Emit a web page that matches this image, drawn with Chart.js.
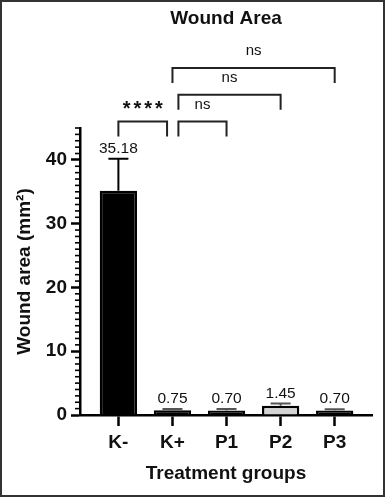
<!DOCTYPE html>
<html>
<head>
<meta charset="utf-8">
<script src="https://cdn.jsdelivr.net/npm/chart.js@4.4.1/dist/chart.umd.min.js"></script>
<style>
  html, body { margin: 0; padding: 0; background: #fff; }
  #frame { width: 385px; height: 497px; box-sizing: border-box; border: 2px solid #333; background: #fff; }
  #frame canvas { display: block; }
</style>
</head>
<body>
<div id="frame"><canvas id="wound-chart" width="381" height="493"></canvas></div>
<script>
// ====== Data ======
const groups = ['K-', 'K+', 'P1', 'P2', 'P3'];
const meanArea = [35.18, 0.75, 0.70, 1.45, 0.70];
const sdArea = [5.0, 0.2, 0.25, 0.35, 0.2];
const yTickValues = [0, 10, 20, 30, 40];

// significance brackets (positions on the group axis, bracket height in mm2, label)
const sigFrom = [0, 1.11, 1.11, 1.0];
const sigTo = [0.9, 2.0, 3.0, 4.0];
const sigLevel = [46.0, 46.0, 50.2, 54.4];
const sigText = ['****', 'ns', 'ns', 'ns'];

// bar fills (P2 is drawn light grey)
const barFill = ['#000', '#000', '#000', '#d4d4d4', '#000'];

const FONT = '"Liberation Sans", Arial, sans-serif';
const boldFont = { family: FONT, size: 19, weight: 'bold' };

// ====== Extra drawing: minor ticks, error bars, value labels, brackets ======
const extrasPlugin = {
  id: 'woundExtras',
  afterDatasetsDraw(chart) {
    const { ctx, scales: { x, y } } = chart;
    ctx.save();

    // minor ticks on the y axis (every 1 mm2)
    ctx.strokeStyle = '#000';
    ctx.lineWidth = 1.6;
    for (let v = 1; v <= y.max; v++) {
      if (v % 10 === 0) continue;
      const py = y.getPixelForValue(v);
      ctx.beginPath();
      ctx.moveTo(chart.chartArea.left - 5, py);
      ctx.lineTo(chart.chartArea.left, py);
      ctx.stroke();
    }

    // error bars + value labels
    meanArea.forEach((m, i) => {
      const px = x.getPixelForValue(i);
      const base = y.getPixelForValue(m);
      const top = y.getPixelForValue(m + sdArea[i]);
      ctx.strokeStyle = m > 5 ? '#000' : '#555';
      ctx.lineWidth = 2;
      ctx.beginPath();
      ctx.moveTo(px, base);
      ctx.lineTo(px, top);
      ctx.moveTo(px - 10, top);
      ctx.lineTo(px + 10, top);
      ctx.stroke();

      ctx.fillStyle = '#111';
      ctx.font = '15.5px ' + FONT;
      ctx.textAlign = 'center';
      ctx.textBaseline = 'alphabetic';
      ctx.fillText(m.toFixed(2), px, top - 6);
    });

    // significance brackets
    sigFrom.forEach((f, i) => {
      const x1 = x.getPixelForValue(f);
      const x2 = x.getPixelForValue(sigTo[i]);
      const yt = y.getPixelForValue(sigLevel[i]);
      const yb = y.getPixelForValue(sigLevel[i] - 2.35);
      ctx.strokeStyle = '#222';
      ctx.lineWidth = 2;
      ctx.beginPath();
      ctx.moveTo(x1, yb);
      ctx.lineTo(x1, yt);
      ctx.lineTo(x2, yt);
      ctx.lineTo(x2, yb);
      ctx.stroke();

      const cx = (x1 + x2) / 2;
      const cy = yt - 17;
      ctx.fillStyle = '#111';
      ctx.textAlign = 'center';
      ctx.textBaseline = 'alphabetic';
      if (sigText[i] === 'ns') {
        ctx.font = '15px ' + FONT;
        ctx.fillText(sigText[i], cx, cy + 4);
      } else {
        ctx.font = 'bold 20px ' + FONT;
        ctx.letterSpacing = '3px';
        ctx.fillText(sigText[i], cx + 1.5, cy + 10);
        ctx.letterSpacing = '0px';
      }
    });

    ctx.restore();
  }
};

const woundChart = new Chart(document.getElementById('wound-chart'), {
  type: 'bar',
  data: {
    datasets: [{
      data: meanArea.map((v, i) => ({ x: i, y: v })),
      backgroundColor: barFill,
      borderColor: '#000',
      borderWidth: 2.5,
      barPercentage: 0.69,
      categoryPercentage: 1
    }]
  },
  options: {
    responsive: false,
    animation: false,
    devicePixelRatio: 1,
    layout: { padding: { left: 0, right: 11, top: 0, bottom: 0 } },
    scales: {
      x: {
        type: 'linear',
        min: -0.71,
        max: 4.69,
        offset: false,
        afterBuildTicks: s => { s.ticks = groups.map((g, i) => ({ value: i })); },
        afterFit: s => { s.height = 80; },
        ticks: {
          callback: v => groups[v],
          font: boldFont,
          color: '#111',
          padding: 5,
          autoSkip: false,
          maxRotation: 0
        },
        grid: {
          offset: false,
          drawOnChartArea: false,
          tickLength: 11,
          tickWidth: 2.5,
          tickColor: '#000'
        },
        border: { display: true, color: '#000', width: 2.5 },
        title: {
          display: true,
          text: 'Treatment groups',
          font: boldFont,
          color: '#111',
          padding: { top: 0, bottom: 10 }
        }
      },
      y: {
        min: 0,
        max: 45,
        afterBuildTicks: s => { s.ticks = yTickValues.map(v => ({ value: v })); },
        afterFit: s => { s.width = 78; },
        ticks: { font: boldFont, color: '#111', padding: 4 },
        grid: {
          drawOnChartArea: false,
          tickLength: 9,
          tickWidth: 2.5,
          tickColor: '#000'
        },
        border: { display: true, color: '#000', width: 2.5 },
        title: {
          display: true,
          text: 'Wound area (mm²)',
          font: boldFont,
          color: '#111',
          padding: { top: 11.6, bottom: 0 }
        }
      }
    },
    plugins: {
      legend: { display: false },
      tooltip: { enabled: false },
      title: {
        display: true,
        text: 'Wound Area',
        fullSize: false,
        font: boldFont,
        color: '#111',
        padding: { top: 5.4, bottom: 97.8 }
      }
    }
  },
  plugins: [extrasPlugin]
});
</script>
</body>
</html>
